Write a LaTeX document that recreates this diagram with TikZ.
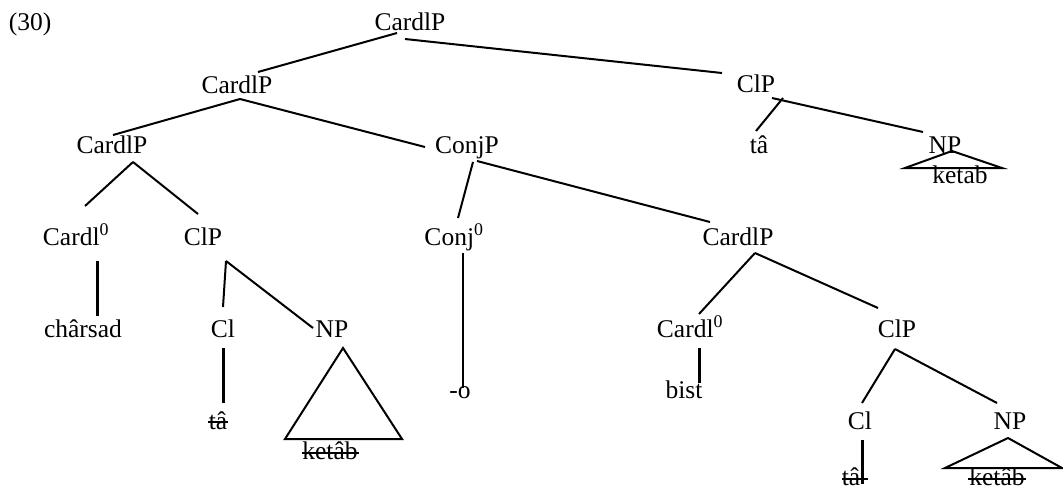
\documentclass[tikz,border=0pt]{standalone}
\usepackage{fontspec}
\setmainfont{Liberation Serif}
\usetikzlibrary{calc}
\tikzset{
  lbl/.style={anchor=base, inner sep=0pt, outer sep=0pt, font=\fontsize{25.5}{30}\selectfont},
  br/.style={line width=2pt},
  thick br/.style={line width=3pt},
  strike/.style={line width=1.6pt},
}
\begin{document}
\begin{tikzpicture}[x=1pt,y=-1pt]
\useasboundingbox (0,0) rectangle (1063,491);
% nodes
\node[lbl] (ex) at (30,30) {(30)};
\node[lbl] (top) at (410,30) {CardlP};
\node[lbl] (c2) at (237,93) {CardlP};
\node[lbl] (clpR) at (756,92) {ClP};
\node[lbl] (c3) at (112,153) {CardlP};
\node[lbl] (conjP) at (467,153) {ConjP};
\node[lbl] (taR) at (759,153) {tâ};
\node[lbl] (npR) at (945,153) {NP};
\node[lbl] (ketabR) at (960,183) {ketab};
\node[lbl] (cardl0L) at (76,245) {Cardl\textsuperscript{0}};
\node[lbl] (clpM) at (203,245) {ClP};
\node[lbl] (conj0) at (454,245) {Conj\textsuperscript{0}};
\node[lbl] (cardlpR) at (738,245) {CardlP};
\node[lbl] (charsad) at (83,337) {chârsad};
\node[lbl] (clM) at (223,337) {Cl};
\node[lbl] (npM) at (332,337) {NP};
\node[lbl] (cardl0R) at (690,337) {Cardl\textsuperscript{0}};
\node[lbl] (clpR2) at (897,337) {ClP};
\node[lbl] (mo) at (460,398) {-o};
\node[lbl] (bist) at (684,398) {bist};
\node[lbl] (taM) at (218,429) {tâ};
\node[lbl] (ketabM) at (330,459) {ketâb};
\node[lbl] (clR) at (860,429) {Cl};
\node[lbl] (npR2) at (1010,429) {NP};
\node[lbl] (taR2) at (851,485) {tâ};
\node[lbl] (ketabR2) at (997,485) {ketâb};
% branches
\draw[br] ($(top.base)+(-13,3)$) -- ($(c2.base)+(21,-21)$);
\draw[br] ($(top.base)+(-5,9)$) -- ($(clpR.base)+(-34,-19)$);
\draw[br] ($(c2.base)+(3,6)$) -- ($(c3.base)+(1,-18)$);
\draw[br] ($(c2.base)+(3,6)$) -- ($(conjP.base)+(-42,-6)$);
\draw[br] ($(clpR.base)+(16,6)$) -- ($(npR.base)+(-22,-21)$);
\draw[br] ($(clpR.base)+(27,6)$) -- ($(taR.base)+(-3,-22)$);
\draw[br] ($(npR.base)+(7,-2)$) -- ($(npR.base)+(-40,15)$) -- ($(npR.base)+(57,15)$) -- cycle;
\draw[br] ($(c3.base)+(21,9)$) -- ($(cardl0L.base)+(9,-39)$);
\draw[br] ($(c3.base)+(21,9)$) -- ($(clpM.base)+(-5,-31)$);
\draw[br] ($(conjP.base)+(6,9)$) -- ($(conj0.base)+(4,-27)$);
\draw[br] ($(conjP.base)+(10,8)$) -- ($(cardlpR.base)+(-28,-23)$);
\draw[thick br] ($(cardl0L.base)+(21,16)$) -- ($(charsad.base)+(14,-21)$);
\draw[br] ($(clpM.base)+(23,16)$) -- ($(clM.base)+(0,-30)$);
\draw[br] ($(clpM.base)+(23,16)$) -- ($(npM.base)+(-19,-9)$);
\draw[br] ($(conj0.base)+(9,8)$) -- ($(mo.base)+(3,-10)$);
\draw[br] ($(cardlpR.base)+(17,8)$) -- ($(cardl0R.base)+(9,-23)$);
\draw[br] ($(cardlpR.base)+(17,8)$) -- ($(clpR2.base)+(-19,-29)$);
\draw[br] ($(npM.base)+(11,11)$) -- ($(npM.base)+(-47,102)$) -- ($(npM.base)+(70,102)$) -- cycle;
\draw[thick br] ($(clM.base)+(0,11)$) -- ($(taM.base)+(5,-26)$);
\draw[thick br] ($(cardl0R.base)+(9,11)$) -- ($(bist.base)+(15,-15)$);
\draw[br] ($(clpR2.base)+(-2,12)$) -- ($(clR.base)+(2,-26)$);
\draw[br] ($(clpR2.base)+(-2,12)$) -- ($(npR2.base)+(-13,-26)$);
\draw[thick br] ($(clR.base)+(2,11)$) -- ($(taR2.base)+(11,-1)$);
\draw[br] ($(npR2.base)+(-2,9)$) -- ($(npR2.base)+(-65,39)$) -- ($(npR2.base)+(52,39)$) -- cycle;
% strike-throughs
\draw[strike] ($(taM.base)+(-10,-7)$) -- ($(taM.base)+(10,-7)$);
\draw[strike] ($(ketabM.base)+(-28,-6)$) -- ($(ketabM.base)+(29,-6)$);
\draw[strike] ($(taR2.base)+(-9,-6)$) -- ($(taR2.base)+(17,-6)$);
\draw[strike] ($(ketabR2.base)+(-29,-6)$) -- ($(ketabR2.base)+(29,-6)$);
\end{tikzpicture}
\end{document}
